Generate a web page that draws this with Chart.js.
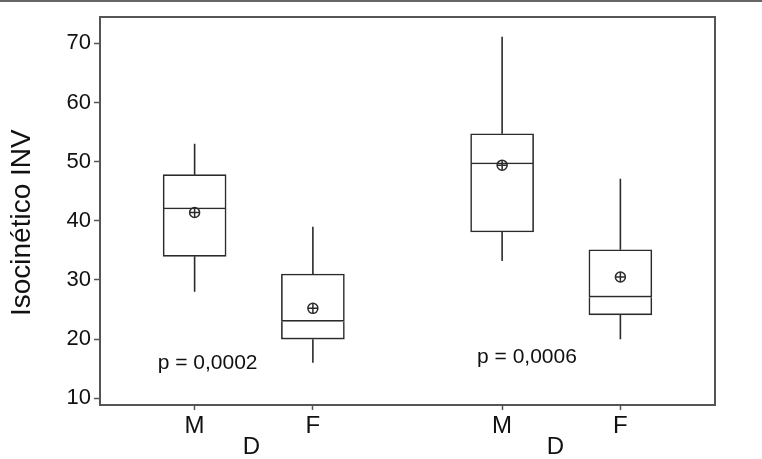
<!DOCTYPE html>
<html>
<head>
<meta charset="utf-8">
<script src="https://cdn.jsdelivr.net/npm/chart.js@4.4.1/dist/chart.umd.min.js"></script>
<style>
  html, body { margin: 0; padding: 0; background: #fff; }
  #wrap { position: relative; width: 762px; height: 459px; }
  #topRule { position: absolute; top: 0; left: 0; width: 762px; height: 2px; background: #666; }
</style>
</head>
<body>
<div id="wrap">
  <canvas id="canvas" width="762" height="459"></canvas>
  <div id="topRule"></div>
</div>
<script>
// categories along the x axis (sex, inside each D group)
const xLabels = ["M", "F", "M", "F"];
const xPositions = [1, 2, 3.6, 4.6];
const groupLabels = ["D", "D"];
const groupPositions = [1.48, 4.05];
const yTicks = [10, 20, 30, 40, 50, 60, 70];

// box plot values
const whiskerLow = [28, 16, 33.2, 20];
const q1 = [34, 20, 38.1, 24.1];
const median = [42, 23, 49.6, 27.1];
const q3 = [47.8, 31, 54.7, 35.1];
const whiskerHigh = [53, 39, 71.1, 47.1];
const means = [41.4, 25.2, 49.4, 30.5];

// p-value notes
const pTexts = ["p = 0,0002", "p = 0,0006"];
const pX = [1.11, 3.81];
const pY = [16, 17];

const lineColor = '#2b2b2b';
const frameColor = '#555';
const textColor = '#111';

Chart.defaults.font.family = '"Liberation Sans", Arial, Helvetica, sans-serif';
Chart.defaults.color = textColor;

// build the chart data from the arrays
const lowerBox = xPositions.map((x, i) => ({ x: x, y: [q1[i], median[i]] }));
const upperBox = xPositions.map((x, i) => ({ x: x, y: [median[i], q3[i]] }));
const whiskers = [];
xPositions.forEach((x, i) => {
    whiskers.push({ x: x, y: q3[i] }, { x: x, y: whiskerHigh[i] }, { x: x, y: null });
    whiskers.push({ x: x, y: whiskerLow[i] }, { x: x, y: q1[i] }, { x: x, y: null });
});
const meanPoints = xPositions.map((x, i) => ({ x: x, y: means[i] }));

// draws the p-value text at data coordinates
const pValuePlugin = {
    id: 'pValues',
    afterDatasetsDraw(chart) {
        const { ctx, scales: { x, y } } = chart;
        ctx.save();
        ctx.font = '21px "Liberation Sans", Arial, sans-serif';
        ctx.fillStyle = textColor;
        ctx.textAlign = 'center';
        ctx.textBaseline = 'middle';
        pTexts.forEach((t, i) => {
            ctx.fillText(t, x.getPixelForValue(pX[i]), y.getPixelForValue(pY[i]));
        });
        ctx.restore();
    }
};

const frameAxis = (position) => ({
    type: 'linear',
    position: position,
    display: true,
    ticks: { display: false },
    grid: { display: false, drawTicks: false },
    border: { display: true, color: frameColor, width: 2 },
    afterFit: (s) => {
        if (position === 'top') s.height = 0; else s.width = 0;
    }
});

new Chart(document.getElementById('canvas'), {
    type: 'bar',
    data: {
        datasets: [
            {
                type: 'scatter',
                data: meanPoints,
                pointStyle: 'cross',
                pointRadius: 5,
                pointHoverRadius: 5,
                borderColor: lineColor,
                borderWidth: 1.5
            },
            {
                type: 'scatter',
                data: meanPoints,
                pointStyle: 'circle',
                pointRadius: 5,
                pointHoverRadius: 5,
                backgroundColor: 'rgba(0,0,0,0)',
                borderColor: lineColor,
                borderWidth: 1.5
            },
            {
                type: 'bar',
                data: upperBox,
                backgroundColor: '#fff',
                borderColor: lineColor,
                borderWidth: 1.6,
                borderSkipped: false,
                barThickness: 63,
                grouped: false
            },
            {
                type: 'bar',
                data: lowerBox,
                backgroundColor: '#fff',
                borderColor: lineColor,
                borderWidth: { top: 0, right: 1.6, bottom: 1.6, left: 1.6 },
                borderSkipped: false,
                barThickness: 63,
                grouped: false
            },
            {
                type: 'line',
                data: whiskers,
                borderColor: lineColor,
                borderWidth: 1.6,
                pointRadius: 0,
                spanGaps: false,
                fill: false
            }
        ]
    },
    options: {
        responsive: false,
        animation: false,
        events: [],
        layout: { autoPadding: false, padding: { top: 17, right: 47, bottom: 0, left: 0 } },
        plugins: { legend: { display: false }, tooltip: { enabled: false } },
        scales: {
            x: {
                type: 'linear',
                position: 'bottom',
                min: 0.2,
                max: 5.4,
                offset: false,
                afterBuildTicks: (s) => { s.ticks = xPositions.map(v => ({ value: v })); },
                afterFit: (s) => { s.height = 28; },
                ticks: {
                    callback: (v, i) => xLabels[i],
                    font: { size: 24 },
                    padding: 2,
                    autoSkip: false,
                    maxRotation: 0
                },
                grid: { drawOnChartArea: false, drawTicks: true, tickLength: 5, tickWidth: 1.5, tickColor: frameColor, offset: false },
                border: { display: true, color: frameColor, width: 2 }
            },
            xg: {
                type: 'linear',
                position: 'bottom',
                weight: 1,
                min: 0.2,
                max: 5.4,
                offset: false,
                afterBuildTicks: (s) => { s.ticks = groupPositions.map(v => ({ value: v })); },
                afterFit: (s) => { s.height = 26; },
                ticks: {
                    callback: (v, i) => groupLabels[i],
                    font: { size: 24 },
                    padding: 0,
                    autoSkip: false,
                    maxRotation: 0
                },
                grid: { display: false, drawTicks: false },
                border: { display: false }
            },
            xt: frameAxis('top'),
            y: {
                type: 'linear',
                position: 'left',
                min: 8.87,
                max: 74.44,
                afterBuildTicks: (s) => { s.ticks = yTicks.map(v => ({ value: v })); },
                afterFit: (s) => { s.width = 100; },
                ticks: { font: { size: 22 }, padding: 3 },
                grid: { drawOnChartArea: false, drawTicks: true, tickLength: 6, tickWidth: 1.5, tickColor: frameColor },
                border: { display: true, color: frameColor, width: 2 },
                title: {
                    display: true,
                    text: 'Isocinético INV   ',
                    font: { size: 28 },
                    color: textColor,
                    padding: { top: 5, bottom: 0 }
                }
            },
            yr: frameAxis('right')
        }
    },
    plugins: [pValuePlugin]
});
</script>
</body>
</html>
